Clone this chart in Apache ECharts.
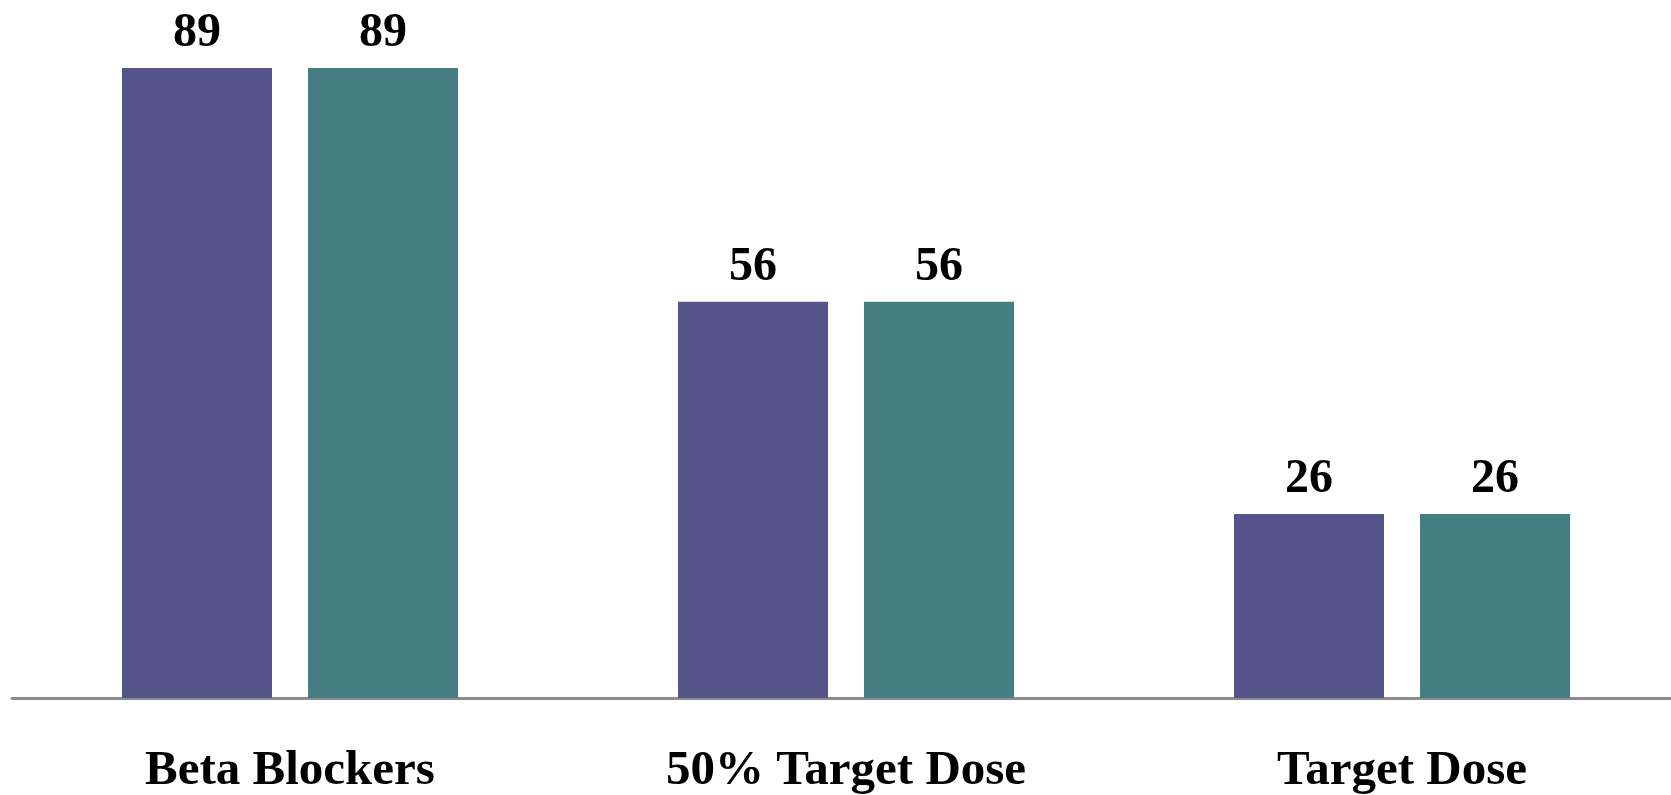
<!DOCTYPE html>
<html>
<head>
<meta charset="utf-8">
<script src="https://cdn.jsdelivr.net/npm/echarts@6/dist/echarts.min.js"></script>
<style>
  html, body { margin: 0; padding: 0; background: #fff; overflow: hidden; }
  #chart { width: 1671px; height: 795px; }
</style>
</head>
<body>
<div id="chart"></div>
<script>
const categories = ['Beta Blockers', '50% Target Dose', 'Target Dose'];
const seriesA = [89, 56, 26];
const seriesB = [89, 56, 26];

const chart = echarts.init(document.getElementById('chart'));
const labelStyle = {
  show: true,
  position: 'top',
  distance: 10,
  fontFamily: '"Liberation Serif", serif',
  fontWeight: 'bold',
  fontSize: 48,
  color: '#000'
};
chart.setOption({
  animation: false,
  grid: {
    left: 12, top: 61, width: 1668, height: 637,
    containLabel: false,
    outerBoundsMode: 'none'
  },
  xAxis: {
    type: 'category',
    data: categories,
    axisTick: { show: false },
    axisLine: { show: true, lineStyle: { color: '#8c8c8c', width: 3 } },
    axisLabel: {
      margin: 49,
      fontFamily: '"Liberation Serif", serif',
      fontWeight: 'bold',
      fontSize: 49,
      color: '#000'
    }
  },
  yAxis: {
    type: 'value',
    min: 0,
    max: 90,
    show: false,
    splitLine: { show: false }
  },
  series: [
    {
      type: 'bar',
      data: seriesA,
      barWidth: 150,
      barGap: '24%',
      itemStyle: { color: '#55548a' },
      label: labelStyle
    },
    {
      type: 'bar',
      data: seriesB,
      barWidth: 150,
      itemStyle: { color: '#457f84' },
      label: labelStyle
    }
  ]
});
</script>
</body>
</html>
